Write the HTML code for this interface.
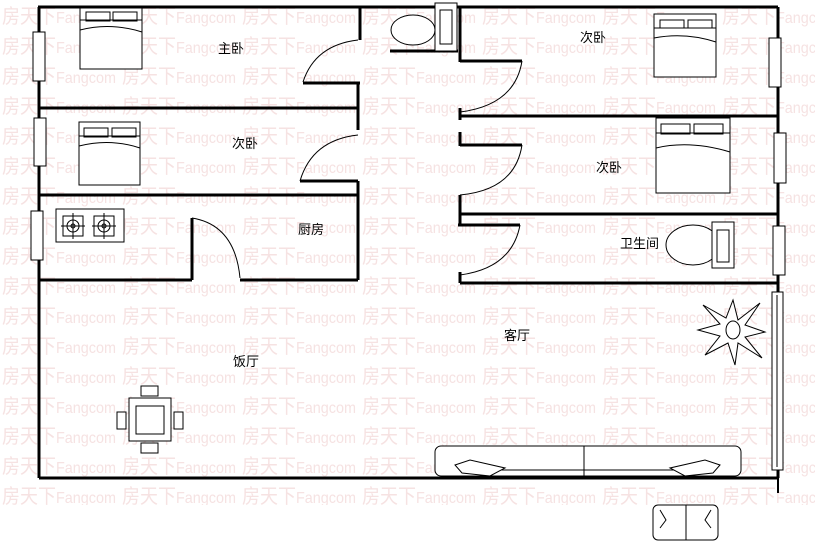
<!DOCTYPE html>
<html><head><meta charset="utf-8"><style>
html,body{margin:0;padding:0;background:#fff;}
svg{display:block;}
.wm{font-family:"Liberation Sans","Noto Sans CJK SC",sans-serif;font-size:20px;fill:#f6e2e2;}
.lb{font-family:"Liberation Sans","Noto Sans CJK SC",sans-serif;font-size:13px;fill:#000;}
</style></head><body>
<svg width="815" height="559" viewBox="0 0 815 559" xmlns="http://www.w3.org/2000/svg">
<defs>
<pattern id="wm" x="0" y="0" width="120" height="30" patternUnits="userSpaceOnUse">
<text x="2" y="23" class="wm" textLength="114" lengthAdjust="spacingAndGlyphs">房天下<tspan font-size="16">Fangcom</tspan></text>
</pattern>
</defs>
<rect x="0" y="0" width="815" height="505" fill="url(#wm)"/>
<g stroke="#000" fill="none" stroke-width="3">
<line x1="38" y1="7" x2="778" y2="7"/>
<line x1="39" y1="7" x2="39" y2="478"/>
<line x1="39" y1="478" x2="778" y2="478"/>
<line x1="778" y1="7" x2="778" y2="478"/>
<line x1="778" y1="478" x2="778" y2="493" stroke-width="2"/>
<line x1="39" y1="108" x2="358" y2="108"/>
<line x1="39" y1="195" x2="358" y2="195"/>
<line x1="39" y1="280" x2="192" y2="280"/>
<line x1="240" y1="280" x2="358" y2="280"/>
<line x1="192" y1="218" x2="192" y2="280"/>
<line x1="358" y1="195" x2="358" y2="280"/>
<line x1="360" y1="7" x2="360" y2="40"/>
<line x1="303" y1="83" x2="360" y2="83"/>
<line x1="358" y1="83" x2="358" y2="130"/>
<line x1="300" y1="181" x2="358" y2="181"/>
<line x1="358" y1="181" x2="358" y2="195"/>
<line x1="390" y1="51" x2="458" y2="51"/>
<line x1="460" y1="7" x2="460" y2="62"/>
<line x1="460" y1="61" x2="522" y2="61"/>
<line x1="460" y1="116" x2="778" y2="116"/>
<line x1="460" y1="108" x2="460" y2="120"/>
<line x1="460" y1="132" x2="460" y2="146"/>
<line x1="460" y1="145" x2="522" y2="145"/>
<line x1="460" y1="195" x2="460" y2="226"/>
<line x1="460" y1="214" x2="778" y2="214"/>
<line x1="458" y1="225" x2="520" y2="225"/>
<line x1="460" y1="272" x2="460" y2="283"/>
<line x1="460" y1="283" x2="778" y2="283"/>
</g>
<g stroke="#000" fill="none" stroke-width="1">
<path d="M303,82 Q315,45 358,40"/>
<path d="M300,181 Q312,140 358,135"/>
<path d="M192,218 Q235,225 240,278"/>
<path d="M522,61 Q515,105 460,112"/>
<path d="M522,145 Q515,190 460,195"/>
<path d="M520,225 Q512,268 460,275"/>
</g>
<g stroke="#000" fill="#fff" stroke-width="1">
<rect x="33" y="32" width="12" height="49"/>
<rect x="34" y="118" width="12" height="48"/>
<rect x="31" y="211" width="12" height="49"/>
<rect x="769" y="38" width="12" height="49"/>
<rect x="774" y="133" width="12" height="50"/>
<rect x="773" y="226" width="12" height="49"/>
<rect x="772" y="292" width="11" height="178"/>
<line x1="777" y1="295" x2="777" y2="467"/>
</g>
<g stroke="#000" fill="#fff" stroke-width="1">
<rect x="80" y="8" width="62" height="61"/>
<rect x="86" y="12" width="24" height="9"/><rect x="113" y="12" width="24" height="9"/>
<path d="M80,20 L142,20 M80,30 Q110,22 142,32"/>
<rect x="79" y="122" width="61" height="63"/>
<rect x="84" y="128" width="24" height="9"/><rect x="112" y="128" width="24" height="9"/>
<path d="M79,136 L140,136 M79,146 Q110,138 140,148"/>
<rect x="654" y="14" width="62" height="63"/>
<rect x="660" y="20" width="24" height="8"/><rect x="688" y="20" width="24" height="8"/>
<path d="M654,28 L716,28 M654,38 Q685,32 716,42"/>
<rect x="656" y="118" width="74" height="75"/>
<rect x="661" y="124" width="29" height="10"/><rect x="694" y="124" width="29" height="10"/>
<path d="M656,133 L730,133 M656,148 Q690,140 730,152"/>
</g>
<g stroke="#000" fill="#fff" stroke-width="1">
<ellipse cx="413" cy="30" rx="22" ry="15"/>
<rect x="435" y="3" width="22" height="48"/>
<rect x="440" y="10" width="12" height="34"/>
<ellipse cx="693" cy="245" rx="27" ry="20"/>
<rect x="712" y="222" width="22" height="46"/>
<rect x="717" y="230" width="12" height="32"/>
</g>
<g stroke="#000" fill="#fff" stroke-width="1">
<rect x="56" y="209" width="68" height="33"/>
<rect x="63" y="216" width="20" height="20"/><circle cx="73" cy="226" r="6"/><circle cx="73" cy="226" r="2"/>
<rect x="94" y="216" width="20" height="20"/><circle cx="104" cy="226" r="6"/><circle cx="104" cy="226" r="2"/>
<path d="M61,226h24M73,213v26M92,226h24M104,213v26"/>
</g>
<g stroke="#000" fill="#fff" stroke-width="1">
<rect x="129" y="398" width="42" height="43"/>
<rect x="136" y="406" width="28" height="28"/>
<rect x="141" y="386" width="17" height="10"/>
<rect x="141" y="443" width="17" height="10"/>
<rect x="117" y="412" width="9" height="17"/>
<rect x="174" y="412" width="9" height="17"/>
</g>
<g stroke="#000" fill="#fff" stroke-width="1">
<rect x="435" y="446" width="306" height="30" rx="6"/>
<line x1="584" y1="446" x2="584" y2="476"/>
<line x1="470" y1="470" x2="705" y2="470"/>
<path d="M455,465 L470,460 L505,468 L490,476 L462,473 Z"/>
<path d="M720,465 L705,460 L670,468 L685,476 L713,473 Z"/>
<rect x="653" y="505" width="65" height="35" rx="5"/>
<line x1="686" y1="505" x2="686" y2="540"/>
<path d="M660,510 L666,520 L660,528 M711,510 L705,520 L711,528"/>
</g>
<g stroke="#000" fill="#fff" stroke-width="1">
<path d="M733,300 L738,320 L760,303 L745,325 L765,332 L745,337 L762,358 L738,343 L735,365 L728,343 L705,355 L720,336 L698,330 L720,324 L703,305 L726,318 Z"/>
<ellipse cx="733" cy="330" rx="7" ry="9"/>
</g>
<text x="218" y="53" class="lb">主卧</text>
<text x="232" y="148" class="lb">次卧</text>
<text x="298" y="234" class="lb">厨房</text>
<text x="580" y="42" class="lb">次卧</text>
<text x="596" y="172" class="lb">次卧</text>
<text x="620" y="248" class="lb">卫生间</text>
<text x="504" y="340" class="lb">客厅</text>
<text x="233" y="366" class="lb">饭厅</text>
</svg>
</body></html>
